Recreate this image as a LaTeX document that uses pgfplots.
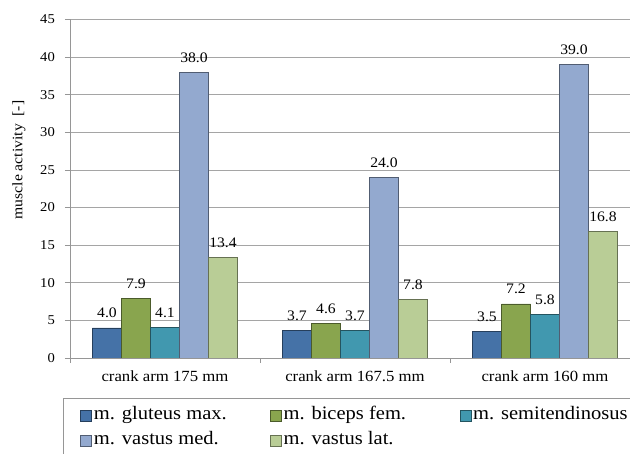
\documentclass[border=0pt]{standalone}
\usepackage{fontspec}
\setmainfont{Liberation Serif}[FakeStretch=1.08]
\usepackage{pgfplots}
\pgfplotsset{compat=1.18}
\definecolor{cA}{RGB}{69,114,167}
\definecolor{cB}{RGB}{137,165,78}
\definecolor{cC}{RGB}{65,152,175}
\definecolor{cD}{RGB}{147,169,207}
\definecolor{cE}{RGB}{185,205,150}
\definecolor{axgray}{RGB}{150,150,150}
\definecolor{gridgray}{RGB}{165,165,165}
\begin{document}
\begin{tikzpicture}
\begin{axis}[
  at={(0,0)}, anchor=south west,
  scale only axis, width=570pt, height=338.5pt,
  xmin=-0.5, xmax=2.5, ymin=0, ymax=45,
  ybar=0pt, bar width=29pt,
  /pgf/number format/assume math mode=true,
  ytick={0,5,...,45},
  ymajorgrids, grid style={draw=gridgray, line width=0.7pt},
  axis lines*=left, axis line style={draw=axgray, line width=0.8pt, -},
  tick align=outside, major tick length=5pt,
  tick style={draw=axgray, line width=0.8pt},
  xtick={-0.5,0.5,1.5,2.5}, xticklabels={},
  extra x ticks={0,1,2},
  extra x tick labels={crank arm 175 mm, crank arm 167.5 mm, crank arm 160 mm},
  extra x tick style={major tick length=0pt},
  xticklabel style={font=\fontsize{15.5}{17}\selectfont, inner sep=0pt, anchor=north, yshift=-13pt},
  yticklabel style={font=\fontsize{13.5}{15}\selectfont, inner sep=0pt, anchor=east, xshift=-10pt},
  every axis y label/.style={at={(axis description cs:-0.0895,0.585)}, anchor=center, rotate=90, font=\fontsize{14.5}{16}\selectfont},
  ylabel={muscle activity\ \ [-]},
  nodes near coords={\pgfmathprintnumber[fixed,fixed zerofill,precision=1]{\pgfplotspointmeta}},
  every node near coord/.append style={font=\fontsize{14.5}{16}\selectfont, inner sep=0pt, anchor=south, yshift=9.5pt, text=black},
  legend columns=3,
  legend cell align=left,
  legend image code/.code={\draw[#1, line width=0.6pt] (0pt,-5.5pt) rectangle (11pt,5.5pt);},
  legend style={at={(axis description cs:-0.01228,-0.11817)}, anchor=north west,
    draw=axgray, line width=0.8pt, fill=white,
    inner xsep=17pt, inner ysep=9pt, column sep=0pt, row sep=9pt,
    font=\fontsize{19}{22}\selectfont,
    nodes={inner xsep=2pt, inner ysep=0pt, text height=12pt, text depth=4pt}},
]
\addplot[fill=cA, draw=cA!55!black, line width=0.6pt] coordinates {(0,4.0) (1,3.7) (2,3.5)};
\addlegendentry{\makebox[174pt][l]{m. gluteus max.}}
\addplot[fill=cB, draw=cB!55!black, line width=0.6pt] coordinates {(0,7.9) (1,4.6) (2,7.2)};
\addlegendentry{\makebox[174pt][l]{m. biceps fem.}}
\addplot[fill=cC, draw=cC!55!black, line width=0.6pt] coordinates {(0,4.1) (1,3.7) (2,5.8)};
\addlegendentry{\makebox[174pt][l]{m. semitendinosus}}
\addplot[fill=cD, draw=cD!55!black, line width=0.6pt] coordinates {(0,38.0) (1,24.0) (2,39.0)};
\addlegendentry{\makebox[174pt][l]{m. vastus med.}}
\addplot[fill=cE, draw=cE!55!black, line width=0.6pt] coordinates {(0,13.4) (1,7.8) (2,16.8)};
\addlegendentry{\makebox[174pt][l]{m. vastus lat.}}
\end{axis}
\pgfresetboundingbox
\useasboundingbox (-70pt,-96pt) rectangle (560pt,358pt);
\end{tikzpicture}
\end{document}
